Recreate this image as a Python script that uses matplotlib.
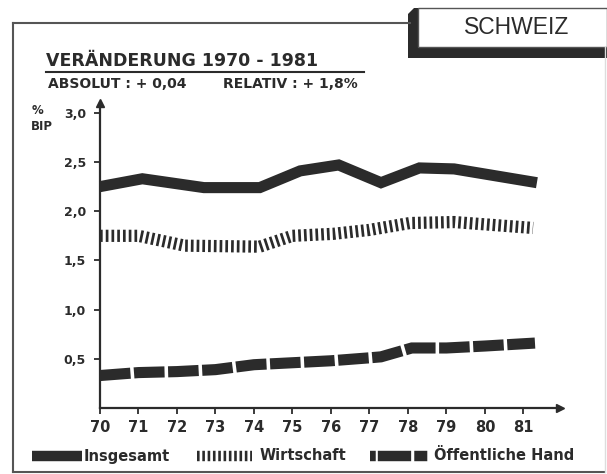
import matplotlib.pyplot as plt
from matplotlib.lines import Line2D
from matplotlib.patches import Polygon, Rectangle

plt.rcParams['font.family'] = ['DejaVu Sans']

W, H = 607, 474
ink = '#2b2b2b'

# values (x in years, y in % BIP)
jahre_ins = [70.0, 71.1, 72.7, 74.15, 75.2, 76.2, 77.3, 78.3, 79.2, 81.35]
insgesamt = [2.25, 2.33, 2.24, 2.24, 2.41, 2.47, 2.29, 2.44, 2.43, 2.29]

jahre_wir = [70.0, 71.0, 72.2, 74.15, 75.0, 76.05, 77.0, 78.05, 79.2, 81.25]
wirtschaft = [1.75, 1.75, 1.65, 1.64, 1.75, 1.77, 1.81, 1.88, 1.89, 1.83]

jahre_oef = [70.0, 71.0, 72.0, 73.0, 74.0, 75.0, 76.0, 77.0, 77.3, 78.1, 79.0, 80.0, 81.3]
oeffentlich = [0.33, 0.36, 0.37, 0.39, 0.44, 0.46, 0.48, 0.51, 0.52, 0.61, 0.61, 0.63, 0.66]

x_ticks = list(range(70, 82))
x_labels = [str(j) for j in x_ticks]
y_ticks = [0.5, 1.0, 1.5, 2.0, 2.5, 3.0]
y_labels = ['0,5', '1,0', '1,5', '2,0', '2,5', '3,0']


def fx(px):
    return px / W


def fy(py):
    return 1 - py / H


fig = plt.figure(figsize=(W / 100, H / 100), dpi=100)
fig.patch.set_facecolor('white')

# outer frame
frame_kw = dict(color='#555555', lw=1.5, transform=fig.transFigure)
fig.add_artist(Line2D([fx(13), fx(410)], [fy(23), fy(23)], **frame_kw))
fig.add_artist(Line2D([fx(13), fx(13)], [fy(23), fy(472)], **frame_kw))
fig.add_artist(Line2D([fx(13), fx(605)], [fy(472), fy(472)], **frame_kw))
fig.add_artist(Line2D([fx(605), fx(605)], [fy(47), fy(472)], color='#dddddd', lw=1, transform=fig.transFigure))

# SCHWEIZ box with shadow
shadow = Polygon([(fx(408), fy(14)), (fx(414), fy(8)), (fx(607), fy(8)),
                  (fx(607), fy(58)), (fx(408), fy(58))],
                 closed=True, facecolor=ink, edgecolor='none', transform=fig.transFigure)
fig.add_artist(shadow)
fig.add_artist(Rectangle((fx(418), fy(47)), fx(607) - fx(418), fy(8) - fy(47),
                         facecolor='white', edgecolor='#555555', lw=1, transform=fig.transFigure))
fig.text(fx(517), fy(28), 'SCHWEIZ', fontsize=16.5, color=ink, ha='center', va='center',
         family='Liberation Sans')

# headings
fig.text(fx(46), fy(61), 'VERÄNDERUNG 1970 - 1981', fontsize=12.5, fontweight='bold',
         color=ink, ha='left', va='center')
fig.add_artist(Line2D([fx(46), fx(364)], [fy(72), fy(72)], color=ink, lw=1.5,
                      transform=fig.transFigure))
fig.text(fx(48), fy(84), 'ABSOLUT : + 0,04', fontsize=10, fontweight='bold',
         color=ink, ha='left', va='center')
fig.text(fx(223), fy(84), 'RELATIV : + 1,8%', fontsize=10, fontweight='bold',
         color=ink, ha='left', va='center')
fig.text(fx(37), fy(110), '%', fontsize=8.5, fontweight='bold', color=ink, ha='center', va='center')
fig.text(fx(42), fy(127), 'BIP', fontsize=8.5, fontweight='bold', color=ink, ha='center', va='center')

# plot area
ax = fig.add_axes([fx(100), fy(408), fx(560) - fx(100), fy(103) - fy(408)])
ax.set_xlim(70, 81.95)
ax.set_ylim(0, 3.1)
for s in ['top', 'right']:
    ax.spines[s].set_visible(False)
for s in ['left', 'bottom']:
    ax.spines[s].set_color(ink)
    ax.spines[s].set_linewidth(1.6)
ax.plot(1, 0, '>', color=ink, ms=6, transform=ax.transAxes, clip_on=False)
ax.plot(0, 1, '^', color=ink, ms=6, transform=ax.transAxes, clip_on=False)

ax.set_xticks(x_ticks)
ax.set_xticklabels(x_labels, fontsize=10.5, fontweight='bold', color=ink)
ax.set_yticks(y_ticks)
ax.set_yticklabels(y_labels, fontsize=9, fontweight='bold', color=ink)
ax.tick_params(axis='both', direction='out', length=4, width=1.3, color=ink)
ax.tick_params(axis='x', pad=5)
ax.tick_params(axis='y', pad=6)

ax.plot(jahre_ins, insgesamt, color=ink, lw=8, solid_joinstyle='miter', solid_capstyle='butt',
        clip_on=False)
ax.plot(jahre_wir, wirtschaft, color=ink, lw=8.8, dash_capstyle='butt',
        linestyle=(0, (0.22, 0.25)), clip_on=False)
ax.plot(jahre_oef, oeffentlich, color=ink, lw=8, dash_capstyle='butt', dash_joinstyle='miter',
        linestyle=(0, (2.75, 0.32)), clip_on=False)

# legend
ly = fy(456)
fig.add_artist(Line2D([fx(32), fx(82)], [ly, ly], color=ink, lw=7.5,
                      solid_capstyle='butt', transform=fig.transFigure))
fig.text(fx(84), ly, 'Insgesamt', fontsize=10.5, fontweight='bold', color=ink, ha='left', va='center')
fig.add_artist(Line2D([fx(197), fx(252)], [ly, ly], color=ink, lw=7.5, dash_capstyle='butt',
                      linestyle=(0, (0.25, 0.26)), transform=fig.transFigure))
fig.text(fx(260), ly, 'Wirtschaft', fontsize=10.5, fontweight='bold', color=ink, ha='left', va='center')
fig.add_artist(Line2D([fx(370), fx(430)], [ly, ly], color=ink, lw=7.5, dash_capstyle='butt',
                      linestyle=(0, (0.55, 0.2, 3.2, 0.3, 1.25, 2)), transform=fig.transFigure))
fig.text(fx(434), ly, 'Öffentliche Hand', fontsize=10.5, fontweight='bold', color=ink,
         ha='left', va='center')

fig.savefig('out.png', dpi=100)
